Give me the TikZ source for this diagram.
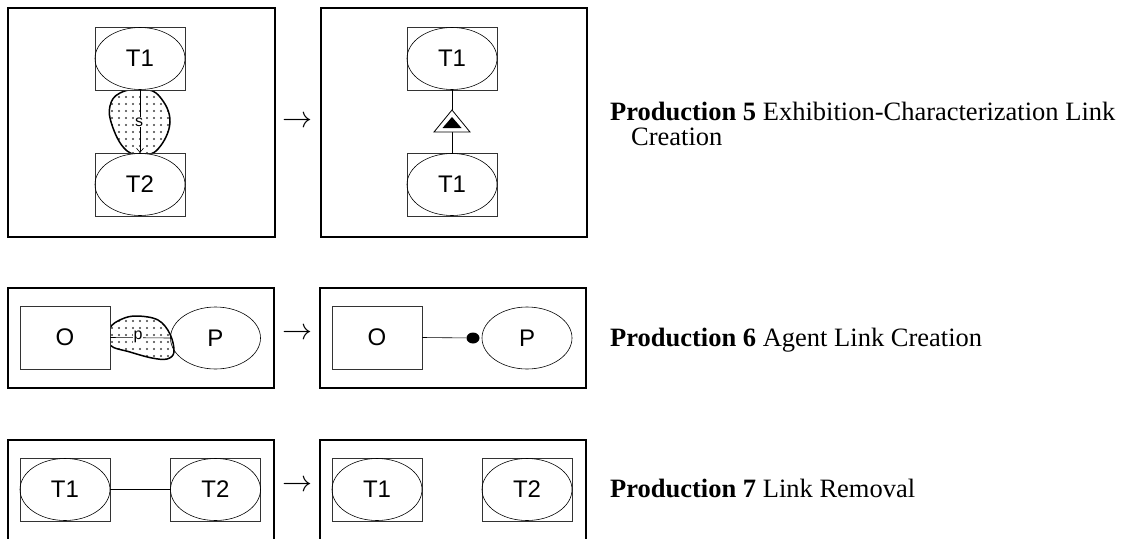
\documentclass[tikz,border=0pt]{standalone}
\usepackage{fontspec}
\setmainfont{Liberation Serif}
\newfontfamily\labelfont{Liberation Sans}
\usetikzlibrary{patterns.meta,arrows.meta,shapes.geometric}

\tikzset{
  frame/.style={draw, line width=2.6pt},
  objbox/.style={draw=black!80, line width=0.6pt, fill=white, rectangle,
    minimum width=90pt, minimum height=63pt, inner sep=0pt,
    font=\labelfont\fontsize{24}{24}\selectfont},
  procell/.style={draw, line width=0.6pt, ellipse, minimum width=90pt,
    minimum height=62pt, inner sep=0pt,
    font=\labelfont\fontsize{24}{24}\selectfont},
  blob/.style={draw, line width=1.5pt, pattern={Dots[distance=7pt, radius=1.1pt]},
    pattern color=black!75},
  linklabel/.style={fill=white, inner sep=0.6pt, font=\labelfont\fontsize{16}{16}\selectfont},
  thin link/.style={draw, line width=0.6pt},
  rewrite/.style={inner sep=0pt},
  caption/.style={anchor=base west, inner sep=0pt, font=\fontsize{26.5}{26.5}\selectfont}
}
\newcommand{\rewritesign}{\scalebox{3.0}{$\rightarrow$}}

\begin{document}
\begin{tikzpicture}[x=1pt, y=-1pt]
\useasboundingbox (0,0) rectangle (1126,538);
\clip (0,0) rectangle (1126,538);

% ---------- Production 5 ----------
\draw[frame] (8,8) rectangle (275,237);
\draw[frame] (321,8) rectangle (587,237);

% left side: specialisation blob between T1 and T2
\draw[blob] plot[smooth cycle, tension=0.7] coordinates
  {(143,89) (160,97) (170,122) (158,149) (140,155) (124,148) (112,125) (110,106) (120,93)};
\node[objbox] (a1) at (140,58.5) {};
\node[procell] (a1e) at (a1) {T1};
\node[objbox] (a2) at (140,184.5) {};
\node[procell] (a2e) at (a2) {T2};
\draw[thin link, -{Straight Barb[length=4pt, width=7pt]}] (a1.south) -- (a2.north);
\node[linklabel] (s) at (139,122) {s};

\node[rewrite] (arr5) at (297,122) {\rewritesign};

% right side: exhibition-characterization link
\node[objbox] (b1) at (452,58.5) {};
\node[procell] (b1e) at (b1) {T1};
\node[objbox] (b2) at (452,184.5) {};
\node[procell] (b2e) at (b2) {T1};
\coordinate (tapex) at (452,110);
\coordinate (tbase) at (452,132);
\draw[thin link] (b1.south) -- (tapex);
\draw[thin link] (tbase) -- (b2.north);
\draw[line width=0.8pt, fill=white] (tapex) -- (470,132) -- (434,132) -- cycle;
\fill (452,117) -- (461.5,128) -- (442.5,128) -- cycle;

\node[caption] (c5a) at (610,120) {\textbf{Production 5} Exhibition-Characterization Link};
\node[caption] (c5b) at (631,145) {Creation};

% ---------- Production 6 ----------
\draw[frame] (8,288) rectangle (274,388);
\draw[frame] (320,288) rectangle (586,388);

\draw[blob] plot[smooth cycle, tension=0.6] coordinates
  {(110,328) (122,319) (137,316) (158,320) (170,334) (174,352) (167,359) (152,358) (130,352) (110,345)};
\node[objbox] (c1) at (65,337.5) {O};
\node[procell] (c2) at (215.5,338) {P};
\draw[thin link] (c1.east) -- (c2.west);
\node[linklabel] (p) at (138,337) {p};

\node[rewrite] (arr6) at (297,334) {\rewritesign};

\node[objbox] (d1) at (377,337.5) {O};
\node[procell] (d2) at (527,338) {P};
\node[ellipse, fill, minimum width=13pt, minimum height=11pt, inner sep=0pt] (d3) at (473,338) {};
\draw[thin link] (d1.east) -- (d3);

\node[caption] (c6) at (610,346) {\textbf{Production 6} Agent Link Creation};

% ---------- Production 7 ----------
\draw[frame] (8,440) rectangle (274,560);
\draw[frame] (320,440) rectangle (586,560);

\node[objbox] (e1) at (65,489.5) {};
\node[procell] (e1e) at (e1) {T1};
\node[objbox] (e2) at (215.5,489.5) {};
\node[procell] (e2e) at (e2) {T2};
\draw[thin link] (e1e.east) -- (e2e.west);

\node[rewrite] (arr7) at (297,486) {\rewritesign};

\node[objbox] (f1) at (377,489.5) {};
\node[procell] (f1e) at (f1) {T1};
\node[objbox] (f2) at (527,489.5) {};
\node[procell] (f2e) at (f2) {T2};

\node[caption] (c7) at (610,497) {\textbf{Production 7} Link Removal};
\end{tikzpicture}
\end{document}
